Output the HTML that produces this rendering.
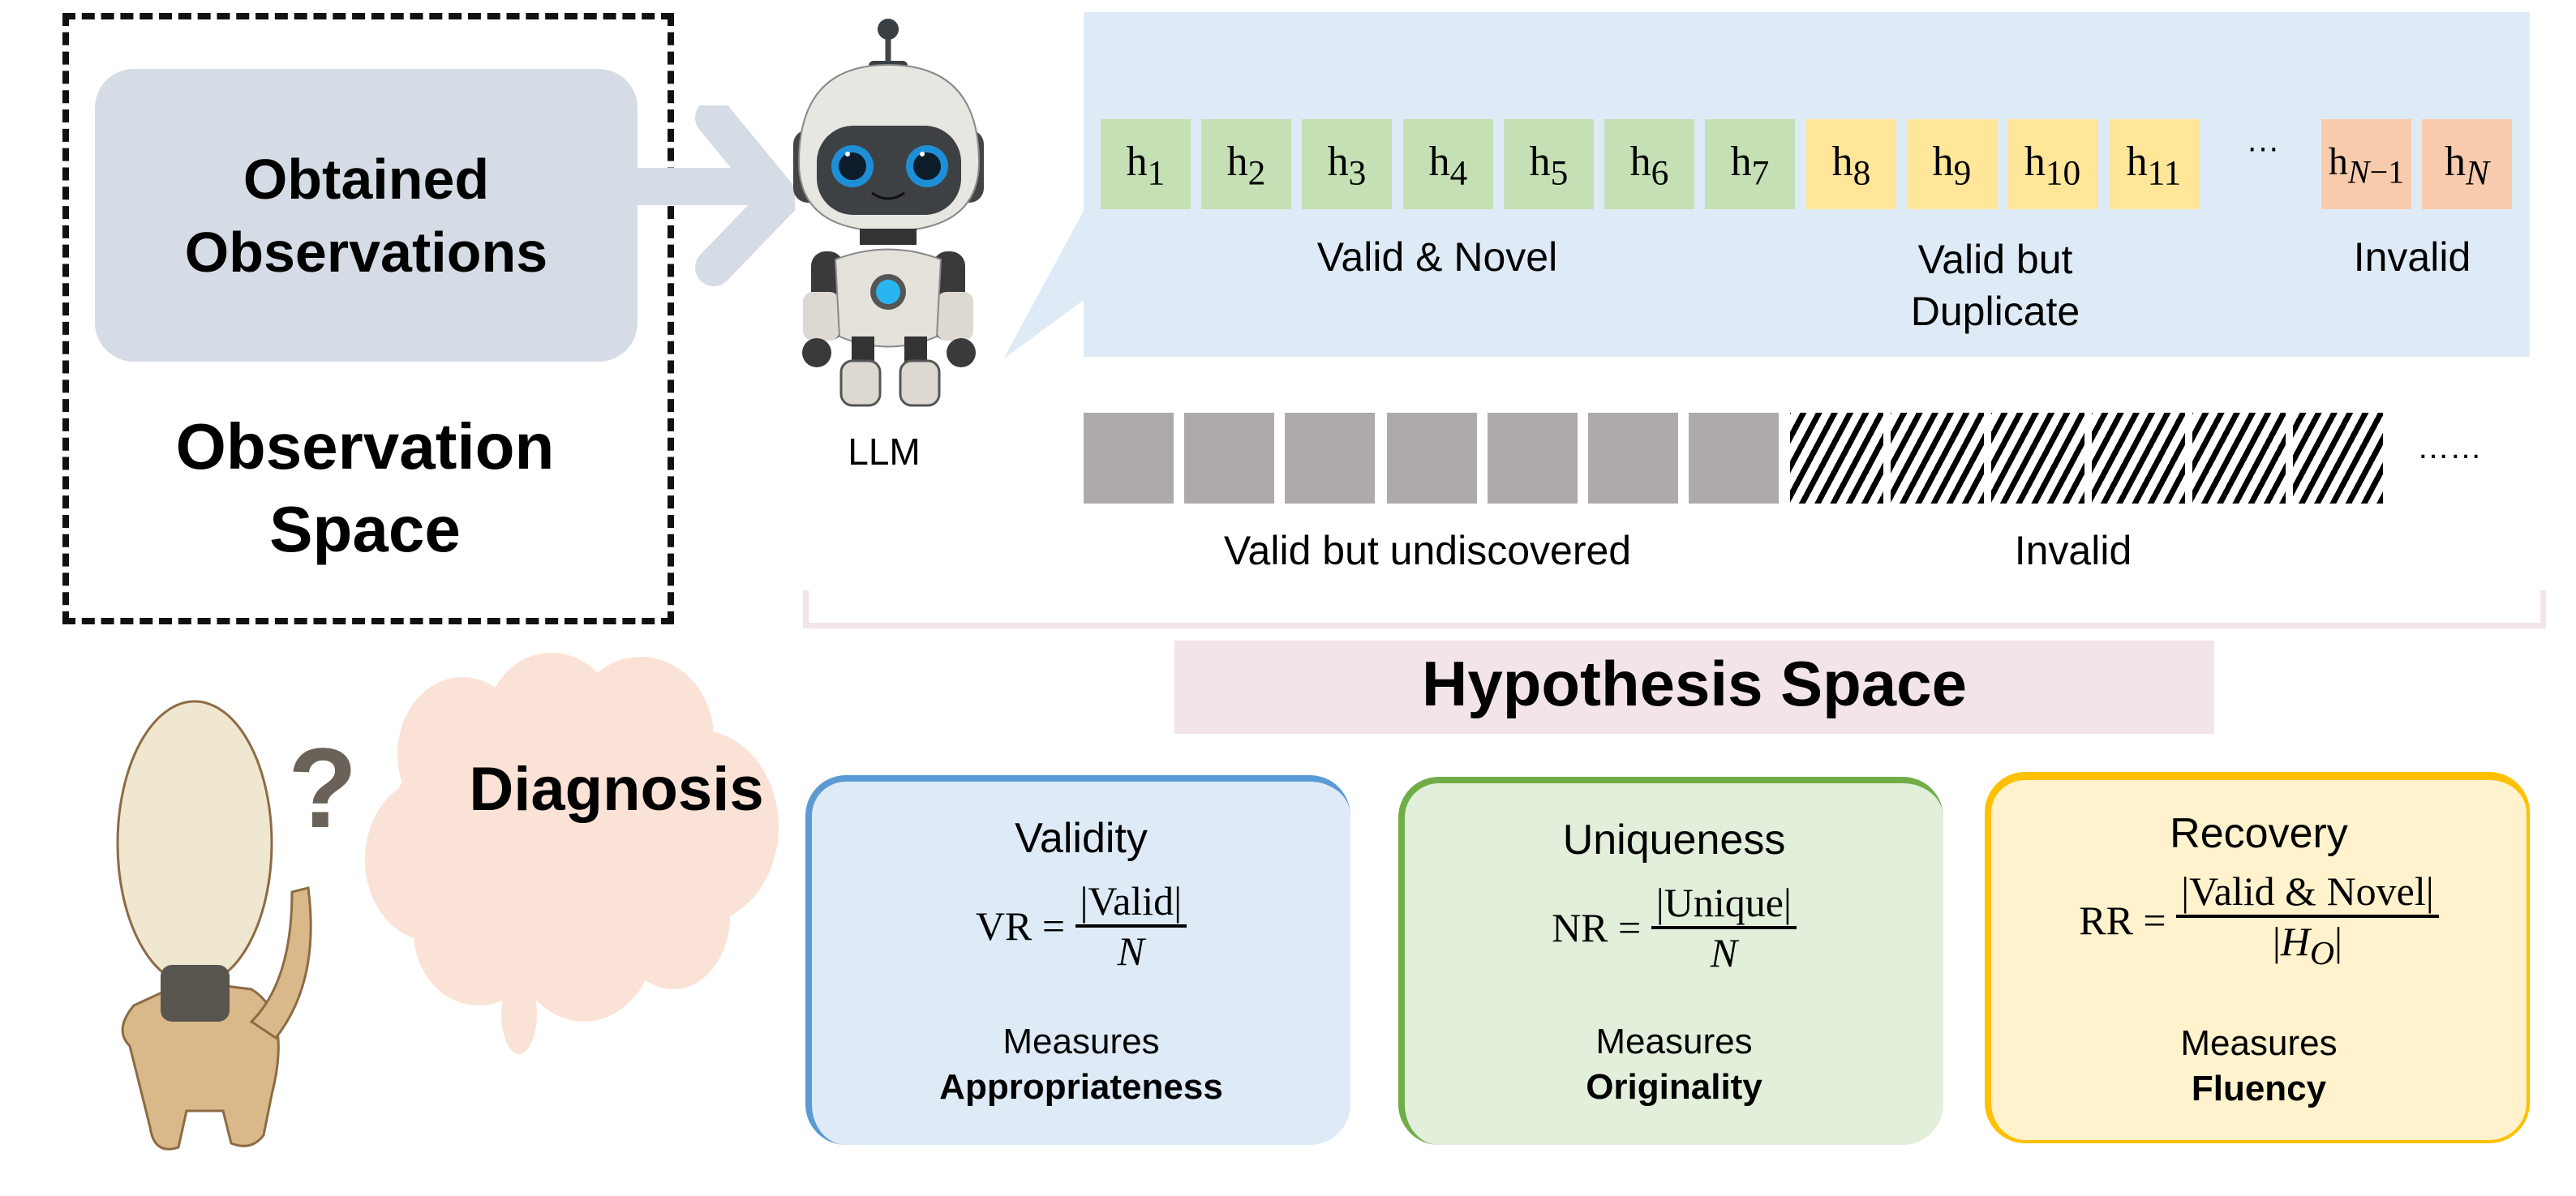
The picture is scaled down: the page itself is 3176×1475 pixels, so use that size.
<!DOCTYPE html>
<html><head><meta charset="utf-8">
<style>
body{margin:0;width:3176px;height:1475px;background:#fff;position:relative;overflow:hidden;font-family:"Liberation Sans",sans-serif;color:#000}
.a{position:absolute}
.t{position:absolute;text-align:center;white-space:nowrap}
.h{position:absolute;top:147px;width:111px;height:111px;font-family:"Liberation Serif",serif;font-size:52px;line-height:105px;text-align:center}
.g{position:absolute;top:509px;width:111px;height:112px;background:#aeaaaa}
.s{position:absolute;top:509px;width:115px;height:112px;background:repeating-linear-gradient(-62deg,#000 0 7px,#fff 7px 17px)}
.card{position:absolute;border-radius:50px;box-sizing:border-box;border-style:solid;border-width:8px 0 0 8px}
.ct{position:absolute;left:0;right:0;text-align:center}
.fr{font-family:"Liberation Serif",serif;font-size:50px}
</style></head><body>
<div class="a" style="left:77px;top:16px;width:738px;height:738px;border:8px dashed #111"></div>
<div class="a" style="left:117px;top:85px;width:669px;height:361px;background:#d6dce5;border-radius:48px"></div>
<div class="t" style="left:117px;width:669px;top:176px;font-size:70px;font-weight:bold;line-height:90px">Obtained<br>Observations</div>
<div class="t" style="left:85px;width:730px;top:500px;font-size:80px;font-weight:bold;line-height:102px">Observation<br>Space</div>
<svg class="a" style="left:780px;top:130px" width="200" height="230"><path d="M0 100 H150 M100 15 L182 115 L100 200" stroke="#d6dce5" stroke-width="46" fill="none" stroke-linecap="round" stroke-linejoin="round"/></svg>
<div class="a" style="left:1336px;top:15px;width:1783px;height:425px;background:#deebf7"></div>
<svg class="a" style="left:1230px;top:250px" width="110" height="200"><polygon points="7,193 106,10 106,120" fill="#deebf7"/></svg>
<svg class="a" style="left:945px;top:20px" width="300" height="490" viewBox="0 0 300 490">
<line x1="150" y1="15" x2="150" y2="62" stroke="#444" stroke-width="7"/><circle cx="150" cy="16" r="13" fill="#3a3f44"/>
<rect x="126" y="55" width="48" height="14" rx="6" fill="#3a3f44"/>
<rect x="33" y="140" width="40" height="90" rx="18" fill="#444"/><rect x="228" y="140" width="40" height="90" rx="18" fill="#444"/>
<path d="M40 180 Q40 60 150 60 Q262 60 262 180 Q262 265 150 265 Q40 265 40 180Z" fill="#e8e6e1" stroke="#888" stroke-width="2"/>
<rect x="62" y="135" width="178" height="110" rx="45" fill="#3e4143"/>
<circle cx="106" cy="185" r="26" fill="#1d8fd6"/><circle cx="106" cy="185" r="17" fill="#0e1d2c"/><circle cx="100" cy="170" r="3" fill="#fff"/>
<circle cx="198" cy="185" r="26" fill="#1d8fd6"/><circle cx="198" cy="185" r="17" fill="#0e1d2c"/><circle cx="192" cy="170" r="3" fill="#fff"/>
<path d="M130 218 Q150 232 170 218" stroke="#111" stroke-width="3" fill="none"/>
<rect x="115" y="262" width="70" height="20" fill="#333"/>
<rect x="55" y="290" width="40" height="110" rx="18" fill="#3a3a3a"/><rect x="205" y="290" width="40" height="110" rx="18" fill="#3a3a3a"/>
<rect x="45" y="340" width="45" height="60" rx="12" fill="#ddd9d2"/><rect x="210" y="340" width="45" height="60" rx="12" fill="#ddd9d2"/>
<circle cx="62" cy="415" r="18" fill="#3a3a3a"/><circle cx="240" cy="415" r="18" fill="#3a3a3a"/>
<path d="M85 300 Q150 275 215 300 L210 395 Q150 420 90 395Z" fill="#e5e2dc" stroke="#888" stroke-width="2"/>
<circle cx="150" cy="340" r="22" fill="#555"/><circle cx="150" cy="340" r="15" fill="#29b6f0"/>
<rect x="105" y="395" width="28" height="40" fill="#333"/><rect x="170" y="395" width="28" height="40" fill="#333"/>
<rect x="92" y="425" width="48" height="55" rx="14" fill="#ddd9d2" stroke="#555" stroke-width="3"/><rect x="165" y="425" width="48" height="55" rx="14" fill="#ddd9d2" stroke="#555" stroke-width="3"/>
</svg>
<div class="t" style="left:990px;width:200px;top:530px;font-size:46px">LLM</div>
<div class="h" style="left:1357px;background:#c5e0b4">h<sub>1</sub></div>
<div class="h" style="left:1481px;background:#c5e0b4">h<sub>2</sub></div>
<div class="h" style="left:1605px;background:#c5e0b4">h<sub>3</sub></div>
<div class="h" style="left:1730px;background:#c5e0b4">h<sub>4</sub></div>
<div class="h" style="left:1854px;background:#c5e0b4">h<sub>5</sub></div>
<div class="h" style="left:1978px;background:#c5e0b4">h<sub>6</sub></div>
<div class="h" style="left:2102px;background:#c5e0b4">h<sub>7</sub></div>
<div class="h" style="left:2227px;background:#ffe699">h<sub>8</sub></div>
<div class="h" style="left:2351px;background:#ffe699">h<sub>9</sub></div>
<div class="h" style="left:2475px;background:#ffe699">h<sub>10</sub></div>
<div class="h" style="left:2600px;background:#ffe699">h<sub>11</sub></div>
<div class="t" style="left:2760px;width:60px;top:160px;font-size:40px">···</div>
<div class="h" style="left:2862px;background:#f8cbad;font-size:48px">h<sub><i>N</i>−1</sub></div>
<div class="h" style="left:2986px;background:#f8cbad">h<sub><i>N</i></sub></div>
<div class="t" style="left:1572px;width:400px;top:288px;font-size:50px">Valid &amp; Novel</div>
<div class="t" style="left:2260px;width:400px;top:288px;font-size:50px;line-height:64px">Valid but<br>Duplicate</div>
<div class="t" style="left:2824px;width:300px;top:288px;font-size:50px">Invalid</div>
<div class="g" style="left:1336px"></div><div class="g" style="left:1460px"></div><div class="g" style="left:1584px"></div><div class="g" style="left:1710px"></div><div class="g" style="left:1834px"></div><div class="g" style="left:1958px"></div><div class="g" style="left:2082px"></div>
<div class="s" style="left:2207px"></div><div class="s" style="left:2331px"></div><div class="s" style="left:2455px"></div><div class="s" style="left:2579px"></div><div class="s" style="left:2703px"></div><div class="s" style="left:2827px;width:111px"></div>
<div class="t" style="left:2965px;width:110px;top:530px;font-size:40px">……</div>
<div class="t" style="left:1460px;width:600px;top:650px;font-size:50px">Valid but undiscovered</div>
<div class="t" style="left:2406px;width:300px;top:650px;font-size:50px">Invalid</div>
<div class="a" style="left:990px;top:728px;width:2135px;height:40px;border:7px solid #f2e4ea;border-top:none"></div>
<div class="a" style="left:1448px;top:790px;width:1282px;height:115px;background:#f2e4ea"></div>
<div class="t" style="left:1448px;width:1282px;top:798px;font-size:78px;font-weight:bold">Hypothesis Space</div>
<svg class="a" style="left:440px;top:800px" width="620" height="520">
<g fill="#fae3d6">
<ellipse cx="230" cy="220" rx="190" ry="140"/><ellipse cx="130" cy="130" rx="80" ry="95"/><ellipse cx="240" cy="90" rx="80" ry="85"/><ellipse cx="350" cy="110" rx="90" ry="100"/><ellipse cx="420" cy="220" rx="100" ry="120"/><ellipse cx="90" cy="260" rx="80" ry="100"/><ellipse cx="150" cy="350" rx="80" ry="90"/><ellipse cx="280" cy="350" rx="90" ry="110"/><ellipse cx="390" cy="330" rx="70" ry="90"/><ellipse cx="200" cy="450" rx="22" ry="50"/>
</g></svg>
<div class="t" style="left:540px;width:440px;top:930px;font-size:76px;font-weight:bold">Diagnosis</div>
<svg class="a" style="left:110px;top:770px" width="340" height="660">
<text x="245" y="250" font-family="Liberation Sans" font-size="140" font-weight="bold" fill="#6a6258">?</text>
<path d="M50 520 Q30 500 55 470 L120 440 L200 450 Q250 480 225 580 L215 630 Q200 650 175 640 L165 600 L120 600 L110 645 Q80 655 75 620Z" fill="#d9b88a" stroke="#8d6b45" stroke-width="3"/>
<path d="M200 490 Q250 440 250 330 L270 325 Q285 440 230 510Z" fill="#d9b88a" stroke="#8d6b45" stroke-width="3"/>
<ellipse cx="130" cy="270" rx="95" ry="175" fill="#efe7cf" stroke="#8d6b45" stroke-width="3"/>
<rect x="88" y="420" width="85" height="70" rx="14" fill="#58554f"/>
</svg>
<div class="card" style="left:993px;top:956px;width:672px;height:456px;background:#deebf7;border-color:#5b9bd5">
 <div class="ct" style="top:40px;font-size:52px">Validity</div>
 <div class="ct fr" style="top:118px"><span style="display:inline-block;vertical-align:middle">VR = </span> <span style="display:inline-block;vertical-align:middle;text-align:center"><span style="display:block;border-bottom:4px solid #000;padding:0 6px">|Valid|</span><i>N</i></span></div>
 <div class="ct" style="top:296px;font-size:44px">Measures</div>
 <div class="ct" style="top:352px;font-size:44px;font-weight:bold">Appropriateness</div>
</div>
<div class="card" style="left:1724px;top:958px;width:672px;height:454px;background:#e2efda;border-color:#70ad47">
 <div class="ct" style="top:40px;font-size:52px">Uniqueness</div>
 <div class="ct fr" style="top:118px"><span style="display:inline-block;vertical-align:middle">NR = </span> <span style="display:inline-block;vertical-align:middle;text-align:center"><span style="display:block;border-bottom:4px solid #000;padding:0 6px">|Unique|</span><i>N</i></span></div>
 <div class="ct" style="top:294px;font-size:44px">Measures</div>
 <div class="ct" style="top:350px;font-size:44px;font-weight:bold">Originality</div>
</div>
<div class="card" style="left:2447px;top:952px;width:672px;height:458px;background:#fff2cc;border-color:#ffc000;border-width:10px 4px 4px 8px">
 <div class="ct" style="top:36px;font-size:52px">Recovery</div>
 <div class="ct fr" style="top:108px"><span style="display:inline-block;vertical-align:middle">RR = </span> <span style="display:inline-block;vertical-align:middle;text-align:center"><span style="display:block;border-bottom:4px solid #000;padding:0 6px">|Valid &amp; Novel|</span>|<i>H<sub>O</sub></i>|</span></div>
 <div class="ct" style="top:300px;font-size:44px">Measures</div>
 <div class="ct" style="top:356px;font-size:44px;font-weight:bold">Fluency</div>
</div>
</body></html>
